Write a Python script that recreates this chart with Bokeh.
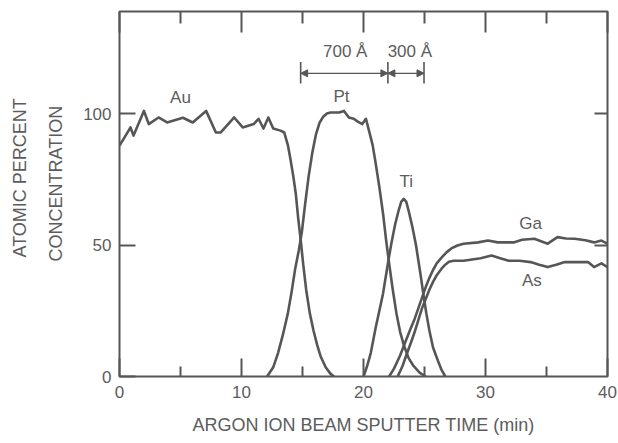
from bokeh.plotting import figure
from bokeh.models import (LinearAxis, FixedTicker, Range1d, Arrow, NormalHead,
                          ColumnDataSource, Title)
from bokeh.core.properties import value
from bokeh.embed import file_html
from bokeh.resources import INLINE

# ---------------- data ----------------
au_x = [0.0, 0.5, 0.9, 1.15, 2.0, 2.4, 3.2, 3.9, 5.2, 6.0, 7.1, 7.9, 8.3, 9.4,
        10.1, 11.0, 11.4, 11.8, 12.2, 12.6, 13.2, 13.5, 13.8, 14.0, 14.25,
        14.45, 14.65, 14.85, 15.05, 15.3, 15.6, 15.9, 16.2, 16.5, 16.9, 17.3,
        17.6]
au_y = [87.8, 91.6, 94.7, 91.6, 101.0, 96.0, 98.5, 96.6, 98.4, 96.6, 101.0,
        92.8, 92.8, 98.5, 94.7, 96.0, 98.0, 94.3, 98.5, 94.3, 93.5, 92.8, 88.0,
        83.0, 76.0, 69.5, 60.0, 52.0, 43.0, 33.0, 24.0, 17.5, 12.0, 7.5, 3.5,
        1.0, 0.0]

pt_x = [12.1, 12.6, 13.0, 13.4, 13.8, 14.1, 14.4, 14.7, 14.95, 15.2, 15.5,
        15.8, 16.1, 16.4, 16.7, 17.0, 17.3, 18.0, 18.4, 18.8, 19.2, 19.5, 19.9,
        20.2, 20.45, 20.75, 21.0, 21.3, 21.6, 21.85, 22.1, 22.4, 22.7, 23.0,
        23.3, 23.7, 24.1, 24.6, 25.1]
pt_y = [0.0, 3.5, 9.0, 16.0, 24.0, 32.0, 41.0, 48.0, 55.0, 65.0, 76.0, 85.0,
        92.0, 96.5, 98.8, 100.0, 100.4, 100.4, 101.0, 98.5, 98.0, 97.0, 96.0,
        98.0, 93.5, 88.0, 81.0, 72.0, 62.0, 52.0, 43.0, 33.0, 24.0, 17.0, 12.0,
        7.0, 4.0, 1.5, 0.0]

ti_x = [20.0, 20.3, 20.6, 21.0, 21.3, 21.6, 22.0, 22.3, 22.6, 22.9, 23.1,
        23.3, 23.5, 23.7, 24.0, 24.3, 24.5, 24.7, 24.9, 25.15, 25.4, 25.7,
        26.1, 26.4, 26.7]
ti_y = [0.0, 4.0, 9.0, 18.6, 25.0, 31.5, 43.0, 51.0, 58.0, 63.5, 66.5, 67.5,
        66.5, 63.0, 57.0, 50.0, 44.0, 38.0, 31.5, 24.0, 17.5, 11.0, 6.0, 2.5,
        0.0]

ga_x = [22.1, 22.5, 23.0, 23.5, 23.8, 24.2, 24.5, 24.8, 25.1, 25.4, 25.7,
        26.0, 26.4, 26.8, 27.2, 27.7, 28.2, 29.4, 30.2, 31.0, 32.3, 33.0, 34.0,
        35.1, 35.9, 36.6, 37.3, 38.2, 38.9, 39.5, 40.0]
ga_y = [0.0, 3.0, 8.0, 14.0, 17.5, 22.0, 26.0, 30.0, 34.0, 37.5, 40.5, 43.0,
        45.2, 47.2, 48.7, 49.8, 50.5, 51.0, 51.7, 51.0, 51.0, 52.0, 52.4, 50.5,
        53.0, 52.5, 52.4, 51.8, 51.0, 51.7, 50.5]

as_x = [22.8, 23.2, 23.5, 23.9, 24.2, 24.5, 24.8, 25.1, 25.4, 25.7, 26.0,
        26.4, 26.7, 27.0, 27.4, 28.2, 29.6, 30.5, 31.2, 31.9, 32.8, 33.7, 34.4,
        35.1, 35.8, 36.5, 37.4, 38.4, 38.9, 39.5, 40.0]
as_y = [0.0, 4.0, 8.0, 13.0, 17.0, 21.5, 26.0, 29.5, 33.0, 36.0, 38.5, 41.0,
        42.5, 43.6, 44.0, 44.0, 45.0, 46.0, 45.0, 44.0, 44.0, 43.5, 42.5, 41.6,
        42.5, 43.5, 43.5, 43.5, 41.6, 43.0, 41.6]

x_major_ticks = [0, 10, 20, 30, 40]
x_minor_ticks = [5, 15, 25, 35]
y_ticks = [0, 50, 100]

curve_names = ["Au", "Pt", "Ti", "Ga", "As"]
name_x = [5.0, 18.2, 23.5, 33.7, 33.8]
name_y = [106.0, 106.5, 74.0, 58.0, 36.5]

# thickness markers (700 Å Pt layer, 300 Å Ti layer)
dim_x = [14.85, 22.0, 24.96]
dim_text = ["700 Å", "300 Å"]
dim_text_x = [18.5, 23.8]

x_title = "ARGON ION BEAM SPUTTER TIME (min)"
y_title_lines = ["ATOMIC PERCENT", "CONCENTRATION"]

GREY = "#565656"
TXT = "#5c5c5c"
FONT = "Liberation Sans"

p = figure(width=618, height=443, output_backend="svg", toolbar_location=None,
           x_range=Range1d(0, 40), y_range=Range1d(0, 138.8),
           min_border_left=119, min_border_right=11, min_border_top=11,
           min_border_bottom=67, x_axis_location=None, y_axis_location=None)
p.grid.visible = False
p.outline_line_color = GREY
p.outline_line_width = 2
p.background_fill_color = "white"
p.border_fill_color = "white"


def style_axis(ax, major_in, minor_in, labels=True):
    ax.axis_line_color = None
    ax.major_tick_line_color = GREY
    ax.major_tick_line_width = 2
    ax.minor_tick_line_color = GREY
    ax.minor_tick_line_width = 2
    ax.major_tick_in = major_in
    ax.major_tick_out = 0
    ax.minor_tick_in = minor_in
    ax.minor_tick_out = 0
    ax.major_label_text_font = FONT
    ax.major_label_text_color = TXT
    ax.major_label_text_font_size = "17px"
    ax.axis_label_text_font = FONT
    ax.axis_label_text_color = TXT
    ax.axis_label_text_font_style = "normal"
    ax.axis_label_text_font_size = "18px"
    if not labels:
        ax.major_label_text_font_size = "1px"
        ax.major_label_text_color = None
        ax.major_label_standoff = 0


xt = FixedTicker(ticks=x_major_ticks, minor_ticks=x_minor_ticks)
bottom = LinearAxis(ticker=xt, axis_label=x_title)
style_axis(bottom, 18, 10)
bottom.major_label_standoff = 9
bottom.axis_label_standoff = 14
p.add_layout(bottom, "below")

top = LinearAxis(ticker=FixedTicker(ticks=x_major_ticks, minor_ticks=x_minor_ticks))
style_axis(top, 21, 12, labels=False)
p.add_layout(top, "above")

left = LinearAxis(ticker=FixedTicker(ticks=y_ticks, minor_ticks=[]))
style_axis(left, 16, 0)
left.major_label_standoff = 8
p.add_layout(left, "left")

right = LinearAxis(ticker=FixedTicker(ticks=y_ticks[1:], minor_ticks=[]))
style_axis(right, 13, 0, labels=False)
p.add_layout(right, "right")

# y title: two rotated title lines in the left margin
t_inner = Title(text=y_title_lines[1], align="left", offset=115, standoff=29,
                text_font=FONT, text_font_size="18px", text_color=TXT,
                text_font_style="normal")
t_outer = Title(text=y_title_lines[0], align="left", offset=119, standoff=0,
                text_font=FONT, text_font_size="18px", text_color=TXT,
                text_font_style="normal")
p.add_layout(t_inner, "left")
p.add_layout(t_outer, "left")

for xs, ys in [(au_x, au_y), (pt_x, pt_y), (ti_x, ti_y), (ga_x, ga_y), (as_x, as_y)]:
    p.line(xs, ys, line_color=GREY, line_width=2.6, line_join="round")

src = ColumnDataSource(dict(x=name_x, y=name_y, t=curve_names))
p.text(x="x", y="y", text="t", source=src, text_font=value(FONT),
       text_font_size="17px", text_color=TXT, text_align="center",
       text_baseline="middle")

# thickness annotation
bar_lo, bar_hi, arrow_y, label_y = 111.4, 119.6, 115.3, 123.5
p.segment(x0=dim_x, y0=[bar_lo] * 3, x1=dim_x, y1=[bar_hi] * 3,
          line_color=GREY, line_width=1.6)
for i in range(2):
    head1 = NormalHead(size=7, fill_color=GREY, line_color=GREY, line_width=1)
    head2 = NormalHead(size=7, fill_color=GREY, line_color=GREY, line_width=1)
    p.add_layout(Arrow(x_start=dim_x[i], y_start=arrow_y, x_end=dim_x[i + 1],
                       y_end=arrow_y, start=head1, end=head2,
                       line_color=GREY, line_width=1.3))
dsrc = ColumnDataSource(dict(x=dim_text_x, y=[label_y, label_y], t=dim_text))
p.text(x="x", y="y", text="t", source=dsrc, text_font=value(FONT),
       text_font_size="17px", text_color=TXT, text_align="center",
       text_baseline="middle")

open("out.html", "w").write(file_html(p, INLINE))
